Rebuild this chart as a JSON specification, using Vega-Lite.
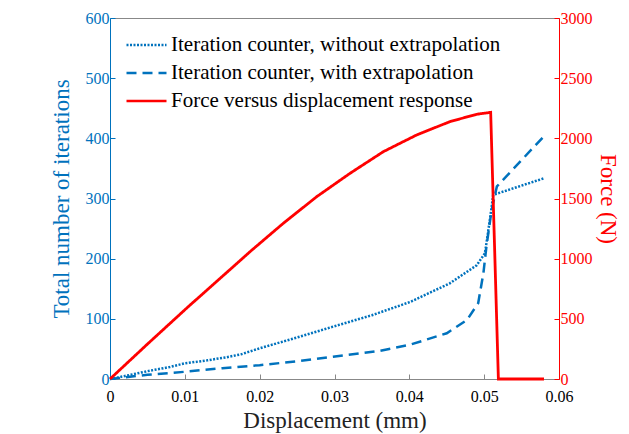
{
  "$schema": "https://vega.github.io/schema/vega-lite/v6.json",
  "autosize": {"type": "none"},
  "width": 449,
  "height": 361,
  "padding": {"left": 110, "top": 18, "right": 70, "bottom": 55},
  "background": "white",
  "config": {
    "font": "Liberation Serif",
    "view": {"stroke": "#888", "strokeWidth": 1},
    "axis": {"grid": false, "labelFont": "Liberation Serif", "titleFont": "Liberation Serif", "labelFontWeight": "normal", "titleFontWeight": "normal", "tickSize": -5, "domainWidth": 1, "labelFlush": false},
    "legend": {"labelFont": "Liberation Serif", "titleFont": "Liberation Serif"}
  },
  "layer": [
    {
      "data": {"values": [
        {"d": 0, "v": 0, "series": "Iteration counter, without extrapolation"},
        {"d": 0.002, "v": 5, "series": "Iteration counter, without extrapolation"},
        {"d": 0.005, "v": 13, "series": "Iteration counter, without extrapolation"},
        {"d": 0.008, "v": 20, "series": "Iteration counter, without extrapolation"},
        {"d": 0.01, "v": 26, "series": "Iteration counter, without extrapolation"},
        {"d": 0.013, "v": 31, "series": "Iteration counter, without extrapolation"},
        {"d": 0.0155, "v": 36, "series": "Iteration counter, without extrapolation"},
        {"d": 0.0175, "v": 41, "series": "Iteration counter, without extrapolation"},
        {"d": 0.02, "v": 51, "series": "Iteration counter, without extrapolation"},
        {"d": 0.025, "v": 69, "series": "Iteration counter, without extrapolation"},
        {"d": 0.0298, "v": 87, "series": "Iteration counter, without extrapolation"},
        {"d": 0.035, "v": 106, "series": "Iteration counter, without extrapolation"},
        {"d": 0.0401, "v": 128, "series": "Iteration counter, without extrapolation"},
        {"d": 0.0454, "v": 159, "series": "Iteration counter, without extrapolation"},
        {"d": 0.049, "v": 189, "series": "Iteration counter, without extrapolation"},
        {"d": 0.0501, "v": 209, "series": "Iteration counter, without extrapolation"},
        {"d": 0.0505, "v": 242, "series": "Iteration counter, without extrapolation"},
        {"d": 0.051, "v": 286, "series": "Iteration counter, without extrapolation"},
        {"d": 0.0512, "v": 306, "series": "Iteration counter, without extrapolation"},
        {"d": 0.0581, "v": 334, "series": "Iteration counter, without extrapolation"},
        {"d": 0, "v": 0, "series": "Iteration counter, with extrapolation"},
        {"d": 0.005, "v": 7, "series": "Iteration counter, with extrapolation"},
        {"d": 0.01, "v": 12, "series": "Iteration counter, with extrapolation"},
        {"d": 0.015, "v": 18, "series": "Iteration counter, with extrapolation"},
        {"d": 0.02, "v": 23, "series": "Iteration counter, with extrapolation"},
        {"d": 0.0254, "v": 30, "series": "Iteration counter, with extrapolation"},
        {"d": 0.0298, "v": 37, "series": "Iteration counter, with extrapolation"},
        {"d": 0.0361, "v": 47, "series": "Iteration counter, with extrapolation"},
        {"d": 0.0401, "v": 57, "series": "Iteration counter, with extrapolation"},
        {"d": 0.045, "v": 76, "series": "Iteration counter, with extrapolation"},
        {"d": 0.0477, "v": 98, "series": "Iteration counter, with extrapolation"},
        {"d": 0.0492, "v": 126, "series": "Iteration counter, with extrapolation"},
        {"d": 0.0499, "v": 176, "series": "Iteration counter, with extrapolation"},
        {"d": 0.0503, "v": 220, "series": "Iteration counter, with extrapolation"},
        {"d": 0.051, "v": 281, "series": "Iteration counter, with extrapolation"},
        {"d": 0.0517, "v": 320, "series": "Iteration counter, with extrapolation"},
        {"d": 0.0581, "v": 405, "series": "Iteration counter, with extrapolation"}
      ]},
      "mark": {"type": "line", "strokeWidth": 2.5},
      "encoding": {
        "x": {"field": "d", "type": "quantitative", "scale": {"domain": [0, 0.06], "nice": false},
          "axis": {"title": "Displacement (mm)", "values": [0, 0.01, 0.02, 0.03, 0.04, 0.05, 0.06], "format": "~g",
            "labelFontSize": 16, "labelColor": "black", "titleFontSize": 23, "titleColor": "#222",
            "domainColor": "#888", "tickColor": "#888", "labelPadding": 14, "titlePadding": 5}},
        "y": {"field": "v", "type": "quantitative", "scale": {"domain": [0, 600], "nice": false},
          "axis": {"title": "Total number of iterations", "orient": "left", "values": [0, 100, 200, 300, 400, 500, 600],
            "labelFontSize": 16, "labelColor": "#0072BD", "titleFontSize": 23, "titleColor": "#0072BD",
            "domainColor": "#0072BD", "tickColor": "#0072BD", "labelPadding": 6, "titlePadding": 12}},
        "color": {"field": "series", "type": "nominal",
          "scale": {"domain": ["Iteration counter, without extrapolation", "Iteration counter, with extrapolation", "Force versus displacement response"],
            "range": ["#0072BD", "#0072BD", "#FF0000"]},
          "legend": {"title": null, "orient": "none", "legendX": 15, "legendY": 14, "symbolType": "stroke", "symbolSize": 1600,
            "symbolStrokeWidth": 2.5, "labelFontSize": 21, "labelColor": "black", "labelOffset": 3, "clipHeight": 26, "padding": 0, "labelLimit": 500}},
        "strokeDash": {"field": "series", "type": "nominal",
          "scale": {"domain": ["Iteration counter, without extrapolation", "Iteration counter, with extrapolation", "Force versus displacement response"],
            "range": [[2, 1.5], [10, 6], [1, 0]]},
          "legend": {"title": null, "orient": "none", "legendX": 15, "legendY": 14, "symbolType": "stroke", "symbolSize": 1600,
            "symbolStrokeWidth": 2.5, "labelFontSize": 21, "labelColor": "black", "labelOffset": 3, "clipHeight": 26, "padding": 0, "labelLimit": 500}}
      }
    },
    {
      "data": {"values": [
        {"d": 0, "F": 0, "series": "Force versus displacement response"},
        {"d": 0.005, "F": 290, "series": "Force versus displacement response"},
        {"d": 0.01046, "F": 601, "series": "Force versus displacement response"},
        {"d": 0.015, "F": 852, "series": "Force versus displacement response"},
        {"d": 0.01871, "F": 1058, "series": "Force versus displacement response"},
        {"d": 0.02316, "F": 1294, "series": "Force versus displacement response"},
        {"d": 0.02762, "F": 1515, "series": "Force versus displacement response"},
        {"d": 0.03207, "F": 1709, "series": "Force versus displacement response"},
        {"d": 0.03652, "F": 1889, "series": "Force versus displacement response"},
        {"d": 0.04098, "F": 2028, "series": "Force versus displacement response"},
        {"d": 0.04543, "F": 2139, "series": "Force versus displacement response"},
        {"d": 0.049, "F": 2200, "series": "Force versus displacement response"},
        {"d": 0.05087, "F": 2216, "series": "Force versus displacement response"},
        {"d": 0.0519, "F": 0, "series": "Force versus displacement response"},
        {"d": 0.058, "F": 0, "series": "Force versus displacement response"}
      ]},
      "mark": {"type": "line", "strokeWidth": 2.8},
      "encoding": {
        "x": {"field": "d", "type": "quantitative", "scale": {"domain": [0, 0.06], "nice": false}},
        "y": {"field": "F", "type": "quantitative", "scale": {"domain": [0, 3000], "nice": false},
          "axis": {"title": "Force (N)", "orient": "right", "values": [0, 500, 1000, 1500, 2000, 2500, 3000], "format": "d",
            "labelFontSize": 16, "labelColor": "#FF0000", "titleFontSize": 23, "titleColor": "#FF0000",
            "domainColor": "#FF0000", "tickColor": "#FF0000", "labelPadding": 6, "titlePadding": 3}},
        "color": {"field": "series", "type": "nominal",
          "scale": {"domain": ["Iteration counter, without extrapolation", "Iteration counter, with extrapolation", "Force versus displacement response"],
            "range": ["#0072BD", "#0072BD", "#FF0000"]}},
        "strokeDash": {"field": "series", "type": "nominal",
          "scale": {"domain": ["Iteration counter, without extrapolation", "Iteration counter, with extrapolation", "Force versus displacement response"],
            "range": [[2, 1.5], [10, 6], [1, 0]]}}
      }
    }
  ],
  "resolve": {"scale": {"y": "independent"}}
}
